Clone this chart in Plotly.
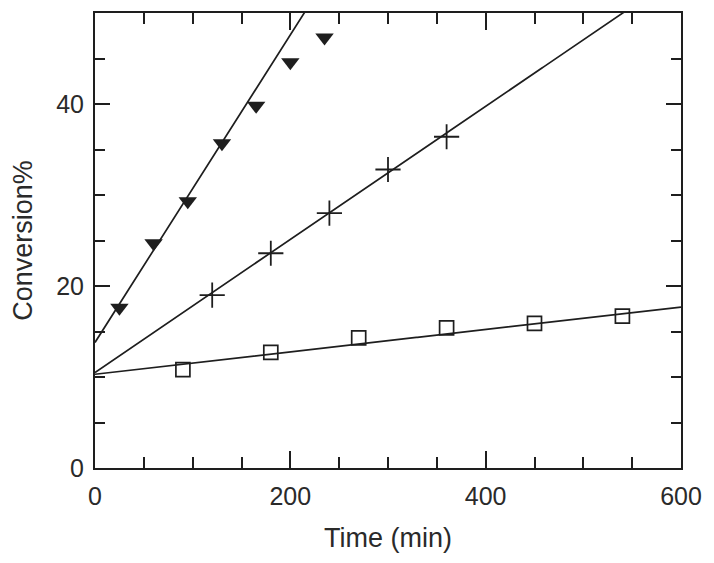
import numpy as np
import plotly.graph_objects as go

# measured points (time in min, conversion %)
tri_time = [25, 60, 95, 130, 165, 200, 235]
tri_conv = [17.6, 24.7, 29.3, 35.7, 39.8, 44.6, 47.3]

plus_time = [120, 180, 240, 300, 360]
plus_conv = [19.0, 23.6, 28.0, 32.8, 36.4]

sq_time = [90, 180, 270, 360, 450, 540]
sq_conv = [10.8, 12.7, 14.3, 15.4, 15.9, 16.7]

# fitted straight lines (intercept, slope) as drawn in the figure
tri_fit = (13.8, 0.169)
plus_fit = (10.5, 0.0731)
sq_fit = (10.3, 0.0123)

INK = '#1e1e1e'
TEXT = '#2a2a2a'
FONT = 'Liberation Sans, Arial, sans-serif'

fig = go.Figure()

line_x = np.linspace(0, 600, 601)
for b, m in (tri_fit, plus_fit, sq_fit):
    fig.add_trace(go.Scatter(
        x=line_x, y=b + m * line_x, mode='lines',
        line=dict(color=INK, width=1.7), showlegend=False, hoverinfo='skip'
    ))

fig.add_trace(go.Scatter(
    x=tri_time, y=tri_conv, mode='markers', showlegend=False,
    marker=dict(symbol='triangle-down', size=16, color=INK,
                line=dict(width=0))
))
fig.add_trace(go.Scatter(
    x=plus_time, y=plus_conv, mode='markers', showlegend=False,
    marker=dict(symbol='cross-thin', size=18,
                line=dict(color=INK, width=1.8))
))
fig.add_trace(go.Scatter(
    x=sq_time, y=sq_conv, mode='markers', showlegend=False,
    marker=dict(symbol='square-open', size=14, color=INK,
                line=dict(width=1.7))
))

axis_common = dict(
    showgrid=False, zeroline=False, showline=True, linecolor=INK,
    linewidth=2, mirror='ticks', ticks='inside', tickcolor=INK,
    tickwidth=2, tickfont=dict(family=FONT, size=25, color=TEXT),
    title_font=dict(family=FONT, size=27, color=TEXT),
)

fig.update_xaxes(
    range=[0, 600], dtick=200, tick0=0, ticklen=17,
    minor=dict(dtick=50, ticks='inside', ticklen=11, tickcolor=INK,
               tickwidth=2, showgrid=False),
    title_text='Time (min)', title_standoff=19, ticklabelstandoff=5,
    **axis_common
)
fig.update_yaxes(
    range=[0, 50], dtick=20, tick0=0, ticklen=15,
    minor=dict(dtick=5, ticks='inside', ticklen=10, tickcolor=INK,
               tickwidth=2, showgrid=False),
    title_text='Conversion%', title_standoff=16, ticklabelstandoff=4,
    **axis_common
)

# page body adds an 8px offset, so the figure is a bit smaller than the window
fig.update_layout(
    width=706, height=555,
    margin=dict(l=87, r=33, t=3, b=95),
    plot_bgcolor='white', paper_bgcolor='white',
    font=dict(family=FONT),
)

fig.write_html("out.html")
